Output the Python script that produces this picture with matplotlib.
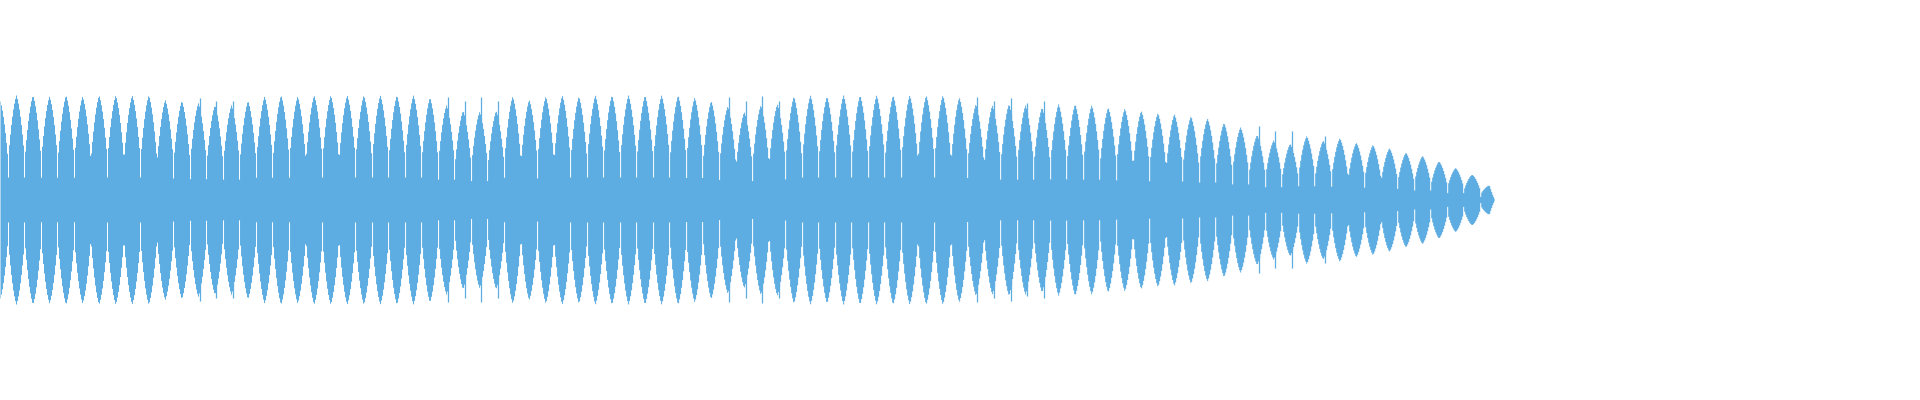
import numpy as np
from matplotlib import pyplot as plt

# peak amplitude of each beat lobe (beats -1 .. 89), full scale = 1
lobe_peaks = [0.91,
              0.95, 0.95, 0.94, 0.95, 0.94, 0.95, 0.95, 0.95, 0.95, 0.91,
              0.90, 0.88, 0.86, 0.86, 0.90, 0.94, 0.95, 0.94, 0.95, 0.95,
              0.95, 0.95, 0.95, 0.95, 0.95, 0.93, 0.86, 0.81, 0.80, 0.81,
              0.94, 0.91, 0.94, 0.95, 0.94, 0.95, 0.95, 0.95, 0.95, 0.95,
              0.95, 0.93, 0.90, 0.85, 0.80, 0.86, 0.87, 0.94, 0.95, 0.94,
              0.95, 0.95, 0.95, 0.95, 0.95, 0.95, 0.95, 0.93, 0.87, 0.86,
              0.87, 0.86, 0.84, 0.87, 0.87, 0.86, 0.84, 0.83, 0.81, 0.79,
              0.78, 0.76, 0.74, 0.70, 0.66, 0.59, 0.54, 0.51, 0.58, 0.54,
              0.56, 0.52, 0.50, 0.47, 0.43, 0.40, 0.35, 0.29, 0.23, 0.13]
first_beat = -1
end_beat = 89.4

# short transients sticking out of some lobes
spike_beats = [11, 12, 13, 26, 27, 28, 29, 43, 44, 45, 46, 58, 59, 60, 61, 62, 75, 76, 77, 79]
spike_peaks = [0.92, 0.90, 0.90, 0.93, 0.90, 0.93, 0.90, 0.93, 0.90, 0.94, 0.90,
               0.93, 0.90, 0.92, 0.88, 0.90, 0.67, 0.62, 0.62, 0.58]

color = "#5DADE2"

fig = plt.figure(figsize=(19.2, 4), dpi=100)
ax = fig.add_axes([0, 0, 1, 1])

step = 1 / 16.54
x = np.arange(-0.967, end_beat, step)
k = np.clip(np.round(x).astype(int), first_beat, first_beat + len(lobe_peaks) - 1)
t = np.abs(x - np.round(x))
peaks = np.array(lobe_peaks)[k - first_beat]
env = peaks * (1 - 0.45 * t - 1.6 * t ** 2)
env = np.where(t > 0.475, 0.215 * peaks, env)
# fade out the last few samples
env[-6:] *= np.linspace(1, 0.1, 6)

ax.fill_between(x, -env, env, step="mid", color=color, linewidth=0)
for b, p in zip(spike_beats, spike_peaks):
    ax.vlines(b + 0.12, -p, p, color=color, linewidth=0.9)

ax.set_xlim(-0.967, 115.1)
ax.set_ylim(-1.823, 1.814)
ax.axis("off")

fig.savefig("out.png", dpi=100)
